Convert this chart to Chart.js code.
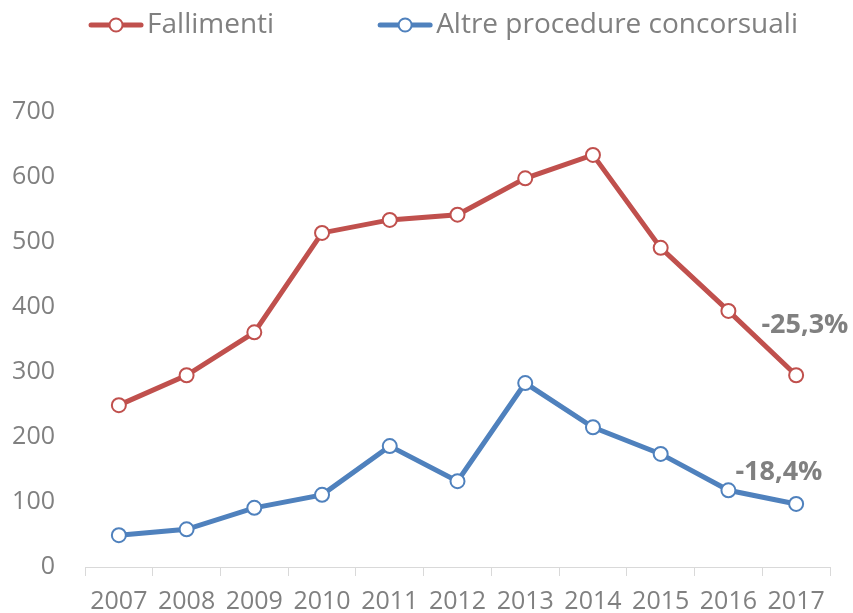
<!DOCTYPE html>
<html>
<head>
<meta charset="utf-8">
<script src="https://cdn.jsdelivr.net/npm/chart.js@4/dist/chart.umd.min.js"></script>
<style>
    html, body { margin: 0; padding: 0; background: #fff; }
    #wrap { width: 853px; height: 613px; }
</style>
</head>
<body>
<div id="wrap"><canvas id="chart" width="853" height="613"></canvas></div>
<script>
/* ---- data ---- */
const years = ['2007', '2008', '2009', '2010', '2011', '2012', '2013', '2014', '2015', '2016', '2017'];
const fallimenti = [249, 295, 361, 514, 534, 542, 598, 634, 491, 394, 295];
const altreProcedure = [49, 58, 91, 111, 186, 132, 283, 215, 174, 118, 97];
const seriesNames = ['Fallimenti', 'Altre procedure concorsuali'];
const changeLabels = ['-25,3%', '-18,4%'];
const yTicks = { min: 0, max: 700, step: 100 };

const RED = '#C0504D';
const BLUE = '#4F81BD';
const GREY = '#808080';
const FONT = "'Open Sans', sans-serif";

// legend drawn by hand: line with a hollow circle, then the series name
const topLegend = {
    id: 'topLegend',
    afterDraw(chart) {
        const ctx = chart.ctx;
        const marker = 56, gapText = 3, gapItem = 103, midY = 25;
        ctx.save();
        ctx.font = '28px ' + FONT;
        const items = chart.data.datasets.map(ds => ({ text: ds.label, color: ds.borderColor, w: ctx.measureText(ds.label).width }));
        const total = items.reduce((s, it) => s + marker + gapText + it.w, 0) + gapItem * (items.length - 1);
        let x = 443 - total / 2;
        items.forEach(it => {
            ctx.strokeStyle = it.color;
            ctx.lineCap = 'round';
            ctx.lineWidth = 5;
            ctx.beginPath(); ctx.moveTo(x + 3, midY); ctx.lineTo(x + marker - 3, midY); ctx.stroke();
            ctx.beginPath(); ctx.arc(x + marker / 2, midY, 6.5, 0, Math.PI * 2);
            ctx.fillStyle = '#fff'; ctx.fill();
            ctx.lineWidth = 2; ctx.stroke();
            ctx.fillStyle = GREY;
            ctx.textAlign = 'left';
            ctx.textBaseline = 'middle';
            ctx.fillText(it.text, x + marker + gapText, midY);
            x += marker + gapText + it.w + gapItem;
        });
        ctx.restore();
    }
};

const changeNotes = {
    id: 'changeNotes',
    afterDatasetsDraw(chart) {
        const x = chart.scales.x, y = chart.scales.y, ctx = chart.ctx;
        ctx.save();
        ctx.font = 'bold 27px ' + FONT;
        ctx.fillStyle = GREY;
        ctx.textBaseline = 'middle';
        ctx.textAlign = 'left';
        ctx.fillText(changeLabels[0], x.getPixelForValue(9) + 33, y.getPixelForValue(372));
        ctx.fillText(changeLabels[1], x.getPixelForValue(9) + 7, y.getPixelForValue(145));
        ctx.restore();
    }
};

function lineSet(label, data, color) {
    return {
        label, data,
        borderColor: color, backgroundColor: '#fff',
        borderWidth: 5,
        pointRadius: 7, pointHoverRadius: 7,
        pointBorderWidth: 2, pointBackgroundColor: '#fff', pointBorderColor: color,
        pointStyle: 'circle',
        tension: 0
    };
}

new Chart(document.getElementById('chart'), {
    type: 'line',
    data: {
        labels: years,
        datasets: [
            lineSet(seriesNames[0], fallimenti, RED),
            lineSet(seriesNames[1], altreProcedure, BLUE)
        ]
    },
    plugins: [topLegend, changeNotes],
    options: {
        responsive: false,
        animation: false,
        layout: { padding: { left: 0, right: 23, top: 112, bottom: 0 } },
        plugins: {
            tooltip: { enabled: false },
            legend: { display: false }
        },
        scales: {
            x: {
                offset: true,
                afterFit: s => { s.height = 46; },
                grid: { offset: true, drawOnChartArea: false, drawTicks: true, tickLength: 9, color: '#D9D9D9' },
                border: { color: '#D9D9D9', width: 1 },
                ticks: { color: GREY, font: { family: FONT, size: 25 }, padding: 11, maxRotation: 0, autoSkip: false }
            },
            y: {
                min: yTicks.min, max: yTicks.max,
                afterFit: s => { s.width = 85; },
                grid: { display: false, drawTicks: false },
                border: { display: false },
                ticks: { stepSize: yTicks.step, color: GREY, font: { family: FONT, size: 25 }, padding: 30 }
            }
        }
    }
});
</script>
</body>
</html>
